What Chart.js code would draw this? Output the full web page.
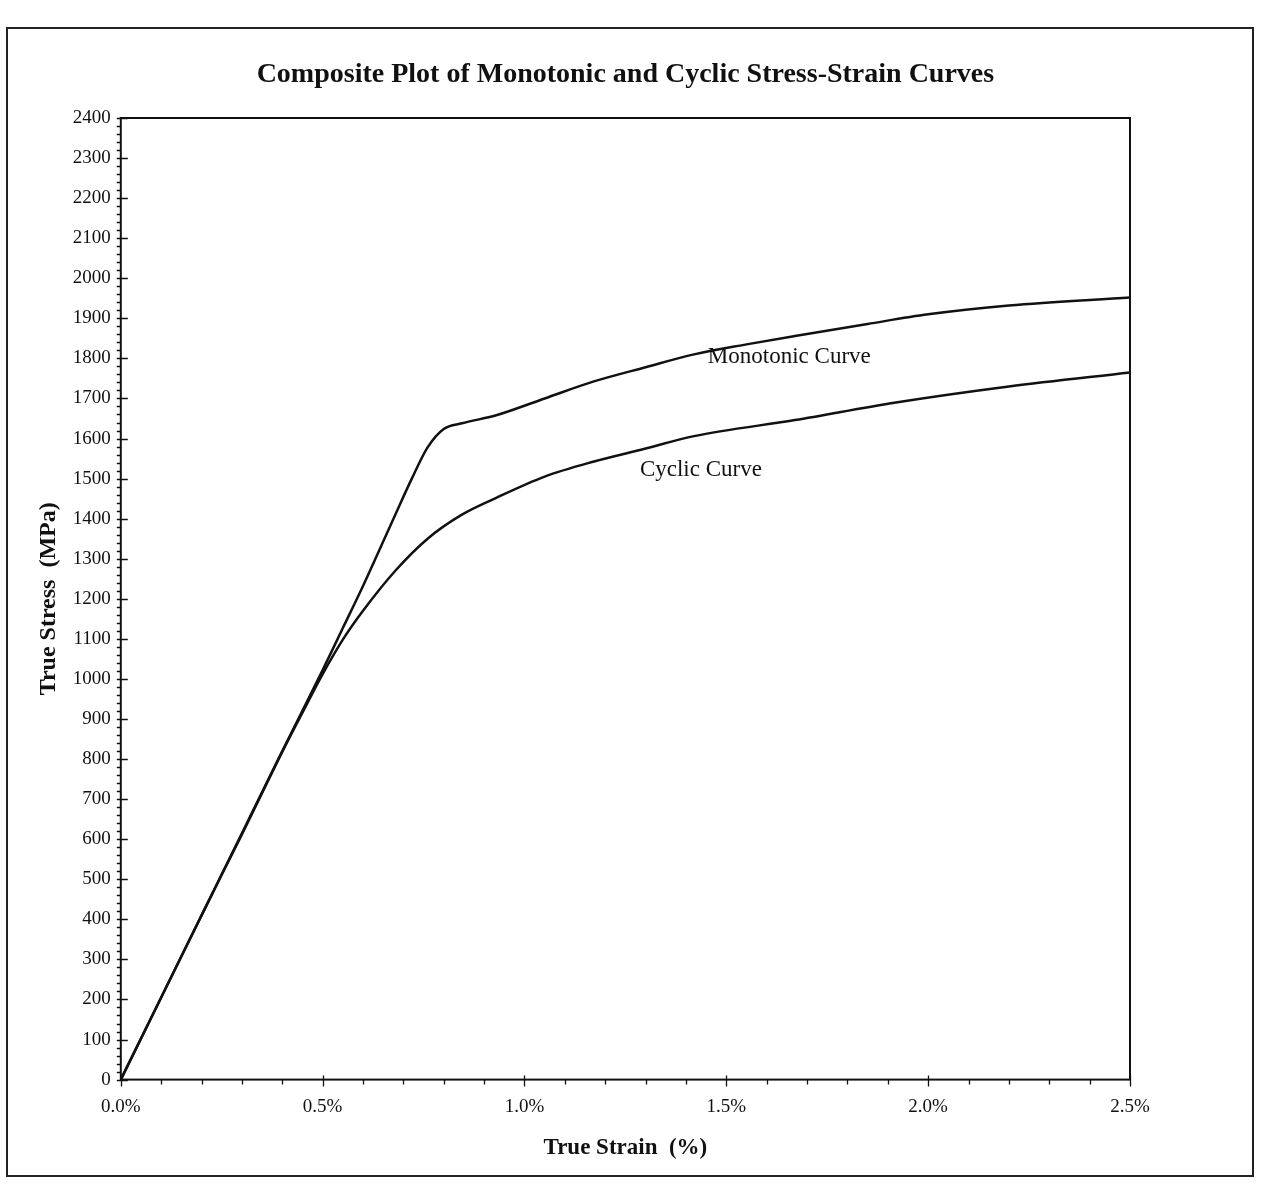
<!DOCTYPE html>
<html>
<head>
<meta charset="utf-8">
<script src="https://cdn.jsdelivr.net/npm/chart.js@4/dist/chart.umd.min.js"></script>
<style>
  body { margin: 0; background: #fff; }
  #wrap { position: relative; width: 1262px; height: 1193px; }
  #frame {
    position: absolute; left: 6px; top: 27px; width: 1248px; height: 1150px;
    border: 2px solid #222; box-sizing: border-box; pointer-events: none;
  }
  canvas { position: absolute; left: 0; top: 0; }
</style>
</head>
<body>
<div id="wrap">
  <div id="frame"></div>
  <canvas id="stress-chart" width="1262" height="1193"></canvas>
</div>
<script>
(function () {
  'use strict';

  // True strain (%) and true stress (MPa)
  const monoStrain = [0, 0.1, 0.2, 0.3, 0.4, 0.5, 0.55, 0.6, 0.68, 0.72, 0.76, 0.8, 0.845, 0.93, 1.05, 1.17, 1.3, 1.42, 1.55, 1.67, 1.85, 2.0, 2.2, 2.5];
  const monoStress = [0, 205, 410, 615, 820, 1022, 1127, 1232, 1410, 1498, 1578, 1624, 1638, 1658, 1700, 1742, 1778, 1810, 1835, 1856, 1886, 1910, 1932, 1952];

  const cyclicStrain = [0, 0.1, 0.2, 0.3, 0.4, 0.45, 0.5, 0.55, 0.6, 0.68, 0.76, 0.845, 0.93, 1.05, 1.17, 1.3, 1.42, 1.67, 1.92, 2.2, 2.5];
  const cyclicStress = [0, 205, 410, 612, 818, 916, 1012, 1098, 1170, 1270, 1350, 1410, 1452, 1505, 1542, 1575, 1606, 1646, 1690, 1730, 1765];

  const labelText = ['Monotonic Curve', 'Cyclic Curve'];
  const labelStrain = [1.656, 1.437];
  const labelStress = [1803, 1521];

  const chartTitle = 'Composite Plot of Monotonic and Cyclic Stress-Strain Curves';

  const toPoints = (xs, ys) => xs.map((x, i) => ({ x: x, y: ys[i] }));
  const serif = '"Liberation Serif", "DejaVu Serif", serif';

  // box round the plot, minor/major tick marks, curve names and the title
  const boxAndTicks = {
    id: 'boxAndTicks',
    afterDraw(chart) {
      const ctx = chart.ctx;
      const a = chart.chartArea;
      const xs = chart.scales.x;
      const ys = chart.scales.y;
      ctx.save();
      ctx.strokeStyle = '#111';
      ctx.lineWidth = 2;
      ctx.strokeRect(a.left, a.top, a.right - a.left, a.bottom - a.top);

      ctx.lineWidth = 1.3;
      ctx.beginPath();
      for (let v = 0; v <= 2400; v += 20) {
        const py = Math.round(ys.getPixelForValue(v)) + 0.5;
        if (v % 100 === 0) {
          ctx.moveTo(a.left - 4, py);
          ctx.lineTo(a.left + 7, py);
        } else {
          ctx.moveTo(a.left - 4, py);
          ctx.lineTo(a.left, py);
        }
      }
      for (let k = 0; k <= 25; k++) {
        const px = Math.round(xs.getPixelForValue(k / 10)) + 0.5;
        if (k % 5 === 0) {
          ctx.moveTo(px, a.bottom - 4);
          ctx.lineTo(px, a.bottom + 7);
        } else {
          ctx.moveTo(px, a.bottom);
          ctx.lineTo(px, a.bottom + 5);
        }
      }
      ctx.stroke();

      ctx.fillStyle = '#111';
      ctx.font = '23px ' + serif;
      ctx.textAlign = 'center';
      ctx.textBaseline = 'middle';
      labelText.forEach((t, i) => {
        ctx.fillText(t, xs.getPixelForValue(labelStrain[i]), ys.getPixelForValue(labelStress[i]));
      });

      ctx.font = 'bold 28px ' + serif;
      ctx.fillText(chartTitle, (a.left + a.right) / 2, a.top - 43);
      ctx.restore();
    }
  };

  new Chart(document.getElementById('stress-chart'), {
    type: 'line',
    data: {
      datasets: [
        {
          label: 'Monotonic Curve',
          data: toPoints(monoStrain, monoStress),
          borderColor: '#111',
          borderWidth: 2.5,
          pointRadius: 0,
          cubicInterpolationMode: 'monotone',
          fill: false
        },
        {
          label: 'Cyclic Curve',
          data: toPoints(cyclicStrain, cyclicStress),
          borderColor: '#111',
          borderWidth: 2.5,
          pointRadius: 0,
          cubicInterpolationMode: 'monotone',
          fill: false
        }
      ]
    },
    options: {
      responsive: false,
      animation: false,
      devicePixelRatio: 1,
      layout: {
        padding: { left: 24, top: 118, right: 132, bottom: 29 }
      },
      plugins: {
        legend: { display: false },
        tooltip: { enabled: false },
        title: { display: false }
      },
      scales: {
        x: {
          type: 'linear',
          min: 0,
          max: 2.5,
          grid: { display: false, drawTicks: false },
          border: { display: false },
          ticks: {
            stepSize: 0.5,
            padding: 16,
            color: '#111',
            font: { family: serif, size: 19 },
            callback: (v) => v.toFixed(1) + '%'
          },
          title: {
            display: true,
            text: 'True Strain  (%)',
            color: '#111',
            font: { family: serif, size: 23, weight: 'bold' },
            padding: { top: 0, bottom: 2 }
          }
        },
        y: {
          min: 0,
          max: 2400,
          grid: { display: false, drawTicks: false },
          border: { display: false },
          ticks: {
            stepSize: 100,
            padding: 10,
            color: '#111',
            font: { family: serif, size: 19 },
            callback: (v) => String(v)
          },
          title: {
            display: true,
            text: 'True Stress  (MPa)',
            color: '#111',
            font: { family: serif, size: 24, weight: 'bold' },
            padding: { top: 10, bottom: 0 }
          }
        }
      }
    },
    plugins: [boxAndTicks]
  });
})();
</script>
</body>
</html>
